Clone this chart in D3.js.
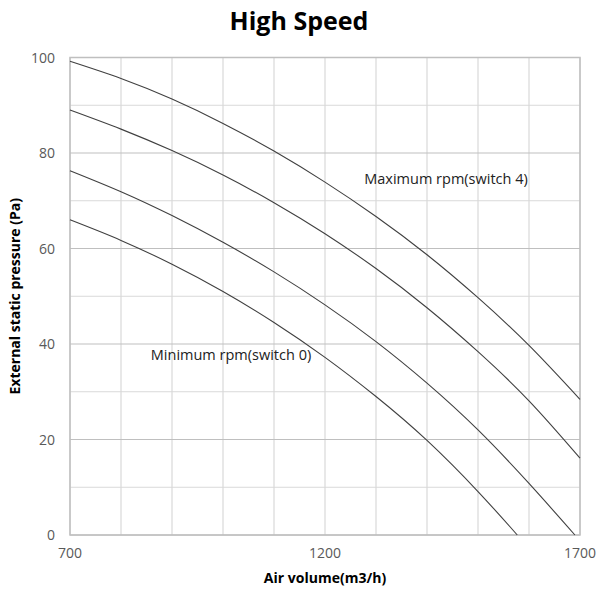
<!DOCTYPE html>
<html>
<head>
<meta charset="utf-8">
<script src="https://d3js.org/d3.v7.min.js"></script>
<style>
  body { margin: 0; background: #fff; }
  text { font-family: "Open Sans", "Noto Sans", sans-serif; }
</style>
</head>
<body>
<svg width="597" height="592"></svg>
<script>
// air volume (m3/h)
var airVolume = [700, 800, 900, 1000, 1100, 1200, 1300, 1400, 1500, 1600, 1700];

// pressure (Pa) for each fan setting
var switch4 = [99.2, 95.6, 91.3, 86.2, 80.4, 73.9, 66.7, 58.7, 49.7, 39.7, 28.4];
var switch3 = [89.0, 85.0, 80.5, 75.4, 69.6, 63.1, 55.8, 47.6, 38.4, 28.1, 16.1];
var switch2Vol = [700, 800, 900, 1000, 1100, 1200, 1300, 1400, 1500, 1600, 1690];
var switch2 = [76.3, 71.9, 66.9, 61.3, 55.1, 48.2, 40.5, 31.8, 22.0, 10.8, 0];
var switch0Vol = [700, 800, 900, 1000, 1100, 1200, 1300, 1400, 1500, 1577];
var switch0 = [66.0, 61.7, 56.7, 51.0, 44.5, 37.2, 29.0, 19.8, 9.1, 0];

var xTicks = [700, 1200, 1700];
var yTicks = [0, 20, 40, 60, 80, 100];

var svg = d3.select("svg");
var pLeft = 70, pRight = 580, pTop = 57.5, pBottom = 535;

var x = d3.scaleLinear().domain([700, 1700]).range([pLeft, pRight]);
var y = d3.scaleLinear().domain([0, 100]).range([pBottom, pTop]);

// grid
var g = svg.append("g");
g.selectAll(".vg").data(d3.range(700, 1701, 100)).enter().append("line")
  .attr("x1", d => x(d)).attr("x2", d => x(d))
  .attr("y1", pTop).attr("y2", pBottom)
  .attr("stroke", "#d9d9d9").attr("stroke-width", 1.2);
g.selectAll(".hg").data(d3.range(0, 101, 10)).enter().append("line")
  .attr("x1", pLeft).attr("x2", pRight)
  .attr("y1", d => y(d)).attr("y2", d => y(d))
  .attr("stroke", d => d % 20 == 0 ? "#bfbfbf" : "#d9d9d9")
  .attr("stroke-width", 1.2);
g.append("rect")
  .attr("x", pLeft).attr("y", pTop)
  .attr("width", pRight - pLeft).attr("height", pBottom - pTop)
  .attr("fill", "none").attr("stroke", "#bfbfbf").attr("stroke-width", 1.5);

// axes labels
svg.selectAll(".yt").data(yTicks).enter().append("text")
  .attr("x", 55).attr("y", d => y(d) + 5)
  .attr("text-anchor", "end")
  .attr("font-size", 14).attr("fill", "#595959")
  .text(d => d);
svg.selectAll(".xt").data(xTicks).enter().append("text")
  .attr("x", d => x(d)).attr("y", 558)
  .attr("text-anchor", "middle")
  .attr("font-size", 14).attr("fill", "#595959")
  .text(d => d);

// curves
var line = d3.line()
  .x(d => x(d[0])).y(d => y(d[1]))
  .curve(d3.curveNatural);
var series = [
  d3.zip(airVolume, switch4),
  d3.zip(airVolume, switch3),
  d3.zip(switch2Vol, switch2),
  d3.zip(switch0Vol, switch0)
];
svg.selectAll(".curve").data(series).enter().append("path")
  .attr("d", line)
  .attr("fill", "none")
  .attr("stroke", "#404040")
  .attr("stroke-width", 1.1);

// annotations
svg.append("text")
  .attr("x", 446).attr("y", 184)
  .attr("text-anchor", "middle")
  .attr("font-size", 14.5).attr("fill", "#222")
  .text("Maximum rpm(switch 4)");
svg.append("text")
  .attr("x", 231).attr("y", 360)
  .attr("text-anchor", "middle")
  .attr("font-size", 14.5).attr("fill", "#222")
  .text("Minimum rpm(switch 0)");

// titles
svg.append("text")
  .attr("x", 299).attr("y", 30)
  .attr("text-anchor", "middle")
  .attr("font-size", 25).attr("font-weight", "bold")
  .text("High Speed");
svg.append("text")
  .attr("x", 325).attr("y", 583)
  .attr("text-anchor", "middle")
  .attr("font-size", 14).attr("font-weight", "bold")
  .text("Air volume(m3/h)");
svg.append("text")
  .attr("transform", "translate(20," + ((pTop + pBottom) / 2) + ") rotate(-90)")
  .attr("text-anchor", "middle")
  .attr("font-size", 14).attr("font-weight", "bold")
  .text("External static pressure (Pa)");
</script>
</body>
</html>
